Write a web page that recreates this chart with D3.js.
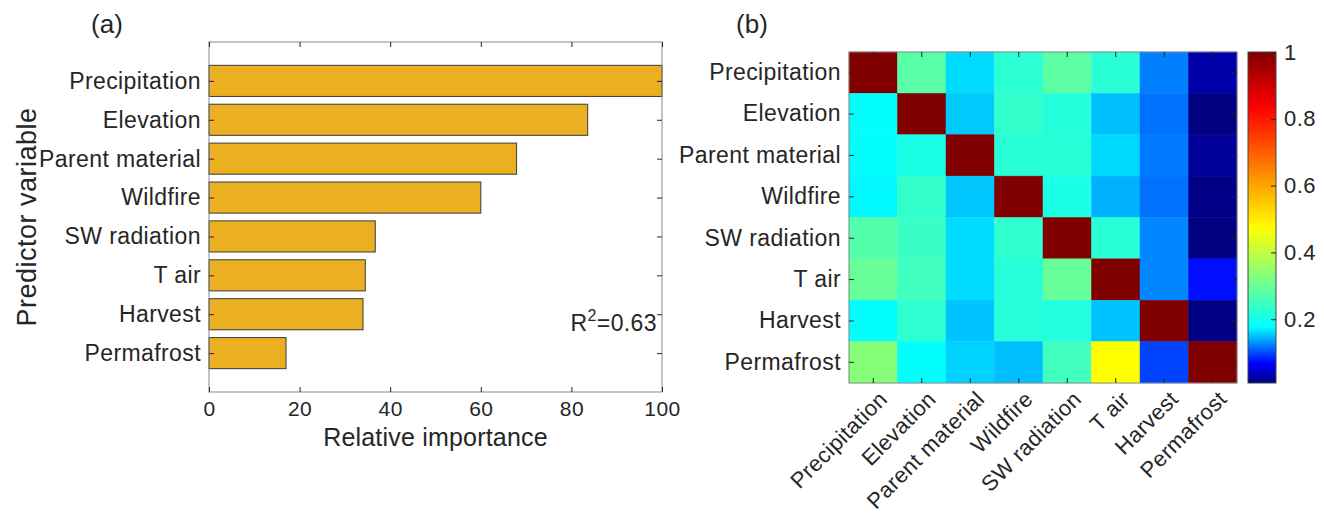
<!DOCTYPE html>
<html>
<head>
<meta charset="utf-8">
<script src="https://cdn.jsdelivr.net/npm/d3@7"></script>
<style>
body{margin:0;background:#fff;}
text{font-family:"Liberation Sans",Arial,Helvetica,sans-serif;fill:#262626;}
</style>
</head>
<body>
<div class="d3-body"></div>
<script>
// data
var predictors = ["Precipitation","Elevation","Parent material","Wildfire","SW radiation","T air","Harvest","Permafrost"];
var importance = [100, 83.6, 67.9, 60, 36.7, 34.5, 34, 17];
var importanceTicks = [0, 20, 40, 60, 80, 100];
var r2Text = "0.63";

// correlation matrix, rows/cols in predictor order
var corrPrecipitation = [1, 0.280, 0.161, 0.226, 0.283, 0.224, 0.122, 0.029];
var corrElevation     = [0.180, 1, 0.154, 0.235, 0.218, 0.149, 0.116, 0.009];
var corrParent        = [0.178, 0.206, 1, 0.224, 0.224, 0.160, 0.119, 0.021];
var corrWildfire      = [0.173, 0.235, 0.152, 1, 0.206, 0.143, 0.116, 0.012];
var corrSW            = [0.274, 0.244, 0.161, 0.232, 1, 0.224, 0.125, 0.009];
var corrTair          = [0.295, 0.250, 0.161, 0.220, 0.295, 1, 0.125, 0.074];
var corrHarvest       = [0.178, 0.230, 0.151, 0.220, 0.215, 0.151, 1, 0.010];
var corrPermafrost    = [0.333, 0.178, 0.157, 0.149, 0.250, 0.473, 0.097, 1];
var corrRows = [corrPrecipitation, corrElevation, corrParent, corrWildfire, corrSW, corrTair, corrHarvest, corrPermafrost];
var colorbarTicks = [0.2, 0.4, 0.6, 0.8, 1];

// jet-like colormap as it appears on the colorbar
var cmapStops = [0.009, 0.068, 0.176, 0.473, 0.833, 1];
var cmapColors = ["#000080", "#0000ff", "#00ffff", "#ffff00", "#ff0000", "#800000"];

var w = 1324, h = 520;
var svg = d3.select(".d3-body").append("svg").attr("width", w).attr("height", h);
var axisGray = "#262626";
var boxGray = "#8a8a8a";

function styleAxis(g) {
  g.select(".domain").remove();
  g.selectAll(".tick line").attr("stroke", axisGray);
  g.selectAll(".tick text").attr("fill", axisGray).attr("font-family", null);
}

// ---- (a) bar chart
var ax = {l: 209, r: 662, t: 42, b: 392};
var x = d3.scaleLinear().domain([0, 100]).range([ax.l, ax.r]);
var y = d3.scaleLinear().domain([0, 9]).range([ax.t, ax.b]);
var barH = y(0.8) - y(0);

var pa = svg.append("g");

pa.selectAll("rect.bar")
  .data(importance)
  .enter()
  .append("rect")
  .attr("class", "bar")
  .attr("x", x(0))
  .attr("y", function(d, i) { return y(i + 1) - barH / 2; })
  .attr("width", function(d) { return x(d) - x(0); })
  .attr("height", barH)
  .attr("fill", "#ebb021")
  .attr("stroke", "#3a3a3a")
  .attr("stroke-width", 1);

pa.append("rect")
  .attr("x", ax.l).attr("y", ax.t)
  .attr("width", ax.r - ax.l).attr("height", ax.b - ax.t)
  .attr("fill", "none").attr("stroke", boxGray);

pa.append("g").attr("transform", "translate(0," + ax.b + ")")
  .call(d3.axisBottom(x).tickValues(importanceTicks).tickSize(-5).tickPadding(9))
  .call(styleAxis)
  .selectAll("text").attr("font-size", 21).attr("letter-spacing", 0.5);

pa.append("g").attr("transform", "translate(0," + ax.t + ")")
  .call(d3.axisTop(x).tickValues(importanceTicks).tickSize(-5).tickFormat(""))
  .call(styleAxis);

pa.append("g").attr("transform", "translate(" + ax.l + ",0)")
  .call(d3.axisLeft(y).tickValues(d3.range(1, 9)).tickSize(-5).tickPadding(8)
    .tickFormat(function(d) { return predictors[d - 1]; }))
  .call(styleAxis)
  .selectAll("text").attr("font-size", 23).attr("letter-spacing", 0.4);

pa.append("g").attr("transform", "translate(" + ax.r + ",0)")
  .call(d3.axisRight(y).tickValues(d3.range(1, 9)).tickSize(-5).tickFormat(""))
  .call(styleAxis);

pa.append("text").attr("x", (ax.l + ax.r) / 2).attr("y", 446)
  .attr("text-anchor", "middle").attr("font-size", 25).attr("letter-spacing", 0.2)
  .text("Relative importance");

pa.append("text").attr("transform", "translate(36," + ((ax.t + ax.b) / 2) + ") rotate(-90)")
  .attr("text-anchor", "middle").attr("font-size", 27).attr("letter-spacing", 0.5)
  .text("Predictor variable");

pa.append("text").attr("x", 107).attr("y", 33).attr("text-anchor", "middle")
  .attr("font-size", 26).text("(a)");

var r2 = pa.append("text").attr("x", 657).attr("y", 331).attr("text-anchor", "end")
  .attr("font-size", 23).attr("letter-spacing", 0.4);
r2.append("tspan").text("R");
r2.append("tspan").attr("dy", -10).attr("font-size", 16).text("2");
r2.append("tspan").attr("dy", 10).text("=" + r2Text);

// ---- (b) correlation heat map
var hm = {l: 849, r: 1237, t: 52, b: 383};
var xH = d3.scaleBand().domain(predictors).range([hm.l, hm.r]);
var yH = d3.scaleBand().domain(predictors).range([hm.t, hm.b]);
var color = d3.scaleLinear().domain(cmapStops).range(cmapColors).clamp(true);

var pb = svg.append("g");

var cells = [];
corrRows.forEach(function(row, i) {
  row.forEach(function(v, j) {
    cells.push({r: predictors[i], c: predictors[j], v: v});
  });
});

pb.selectAll("rect.cell")
  .data(cells)
  .enter()
  .append("rect")
  .attr("class", "cell")
  .attr("x", function(d) { return xH(d.c); })
  .attr("y", function(d) { return yH(d.r); })
  .attr("width", xH.bandwidth())
  .attr("height", yH.bandwidth())
  .attr("fill", function(d) { return color(d.v); })
  .attr("stroke", function(d) { return color(d.v); })
  .attr("stroke-width", 0.5);

pb.append("rect")
  .attr("x", hm.l).attr("y", hm.t)
  .attr("width", hm.r - hm.l).attr("height", hm.b - hm.t)
  .attr("fill", "none").attr("stroke", boxGray);

pb.append("g").attr("transform", "translate(" + hm.l + ",0)")
  .call(d3.axisLeft(yH).tickSize(-5).tickPadding(8))
  .call(styleAxis)
  .selectAll("text").attr("font-size", 23).attr("letter-spacing", 0.4);

pb.append("g").attr("transform", "translate(" + hm.r + ",0)")
  .call(d3.axisRight(yH).tickSize(-5).tickFormat(""))
  .call(styleAxis);

pb.append("g").attr("transform", "translate(0," + hm.t + ")")
  .call(d3.axisTop(xH).tickSize(-5).tickFormat(""))
  .call(styleAxis);

pb.append("g").attr("transform", "translate(0," + hm.b + ")")
  .call(d3.axisBottom(xH).tickSize(-5))
  .call(styleAxis)
  .selectAll("text")
  .attr("font-size", 22).attr("letter-spacing", 0.4)
  .attr("x", 0).attr("y", 0).attr("dy", "0.35em")
  .attr("transform", "translate(10,12) rotate(-45)")
  .style("text-anchor", "end");

pb.append("text").attr("x", 752).attr("y", 33).attr("text-anchor", "middle")
  .attr("font-size", 26).text("(b)");

// colorbar
var cb = {l: 1248, r: 1276, t: 52, b: 383};
var yC = d3.scaleLinear().domain([cmapStops[0], 1]).range([cb.b, cb.t]);

var grad = svg.append("defs").append("linearGradient")
  .attr("id", "jetgrad").attr("x1", 0).attr("y1", 1).attr("x2", 0).attr("y2", 0);
grad.selectAll("stop")
  .data(cmapStops)
  .enter()
  .append("stop")
  .attr("offset", function(d) { return (d - cmapStops[0]) / (1 - cmapStops[0]); })
  .attr("stop-color", function(d, i) { return cmapColors[i]; });

pb.append("rect")
  .attr("x", cb.l).attr("y", cb.t)
  .attr("width", cb.r - cb.l).attr("height", cb.b - cb.t)
  .attr("fill", "url(#jetgrad)").attr("stroke", "#444");

pb.append("g").attr("transform", "translate(" + cb.r + ",0)")
  .call(d3.axisRight(yC).tickValues(colorbarTicks).tickSize(-5).tickPadding(8)
    .tickFormat(function(d) { return d === 1 ? "1" : d3.format(".1f")(d); }))
  .call(styleAxis)
  .selectAll("text").attr("font-size", 22).attr("letter-spacing", 0.5);
</script>
</body>
</html>
